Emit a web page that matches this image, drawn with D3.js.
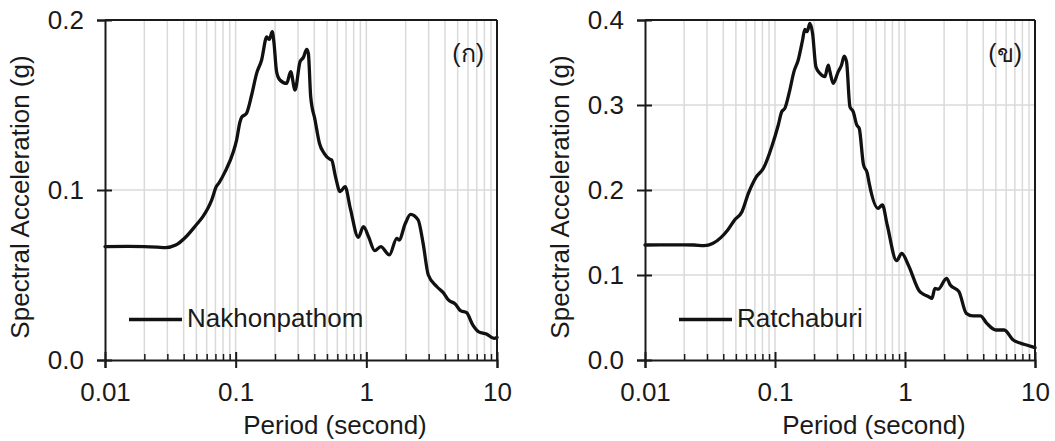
<!DOCTYPE html>
<html>
<head>
<meta charset="utf-8">
<script src="https://cdn.jsdelivr.net/npm/d3@7"></script>
<style>
  html, body { margin: 0; padding: 0; background: #fff; }
  svg { display: block; font-family: "Liberation Sans", Arial, sans-serif; }
</style>
</head>
<body>
<svg id="chart" width="1055" height="441"></svg>
<script>
// Period axis (log scale, seconds)
const xTickValues = [0.01, 0.1, 1, 10];
const xTickLabels = ["0.01", "0.1", "1", "10"];

// Nakhonpathom response spectrum
const periodNakhon = [0.01, 0.015, 0.02, 0.025, 0.029, 0.0348, 0.0417, 0.0498, 0.0561, 0.0613, 0.0655,
  0.0711, 0.075, 0.083, 0.096, 0.1016, 0.1079, 0.111, 0.121, 0.1325, 0.1447, 0.158, 0.1729, 0.181,
  0.1905, 0.196, 0.2056, 0.218, 0.2456, 0.2636, 0.2847, 0.311, 0.33, 0.3495, 0.36, 0.375, 0.405,
  0.4375, 0.4755, 0.528, 0.543, 0.58, 0.63, 0.688, 0.754, 0.868, 0.951, 1.04, 1.16, 1.29, 1.5, 1.71,
  1.78, 1.99, 2.18, 2.49, 2.72, 2.98, 3.47, 3.88, 4.25, 4.8, 5.25, 5.85, 6.52, 7.2, 8.3, 9.5, 10];
const saNakhon = [0.0667, 0.0668, 0.0667, 0.0664, 0.0661, 0.0676, 0.0725, 0.0794, 0.0843, 0.0892, 0.094,
  0.102, 0.1045, 0.1108, 0.1225, 0.1294, 0.14, 0.1427, 0.1451, 0.1559, 0.1686, 0.1765, 0.19, 0.1886,
  0.1931, 0.1873, 0.1696, 0.1647, 0.1627, 0.1696, 0.1588, 0.1755, 0.178, 0.1827, 0.1804, 0.155, 0.1412,
  0.1275, 0.1216, 0.118, 0.1176, 0.108, 0.099, 0.102, 0.0892, 0.0722, 0.0784, 0.0725, 0.0643, 0.0667,
  0.0618, 0.0716, 0.0706, 0.0804, 0.0857, 0.0824, 0.0686, 0.05, 0.0431, 0.0396, 0.0353, 0.0329, 0.029,
  0.0278, 0.0206, 0.0167, 0.0153, 0.0127, 0.0133];

// Ratchaburi response spectrum
const periodRatchaburi = [0.01, 0.015, 0.02, 0.0238, 0.0285, 0.0331, 0.0385, 0.0433, 0.0489, 0.0557,
  0.0624, 0.072, 0.0814, 0.0944, 0.106, 0.1126, 0.119, 0.13, 0.1397, 0.1509, 0.163, 0.1696, 0.1766,
  0.1855, 0.1945, 0.2063, 0.2213, 0.242, 0.2568, 0.263, 0.2805, 0.306, 0.325, 0.3405, 0.355, 0.377,
  0.4, 0.4255, 0.4445, 0.479, 0.513, 0.53, 0.62, 0.67, 0.73, 0.862, 0.944, 1.06, 1.3, 1.38, 1.52, 1.61,
  1.7, 1.8, 2.09, 2.23, 2.6, 2.96, 3.34, 3.8, 4.26, 5.0, 5.8, 6.8, 7.8, 8.6, 10];
const saRatchaburi = [0.1353, 0.1355, 0.1355, 0.1353, 0.1345, 0.137, 0.1443, 0.153, 0.1647, 0.1745,
  0.196, 0.2157, 0.2255, 0.251, 0.2765, 0.292, 0.296, 0.3176, 0.339, 0.353, 0.3765, 0.389, 0.3863,
  0.396, 0.3843, 0.345, 0.3373, 0.3333, 0.347, 0.341, 0.3255, 0.339, 0.347, 0.3576, 0.351, 0.298,
  0.292, 0.2765, 0.2725, 0.23, 0.2196, 0.208, 0.1784, 0.1824, 0.1588, 0.1168, 0.1255, 0.1118, 0.0804,
  0.0776, 0.0745, 0.0725, 0.0843, 0.0833, 0.0961, 0.0882, 0.0804, 0.0549, 0.0518, 0.052, 0.0431,
  0.0353, 0.0353, 0.0235, 0.0196, 0.0176, 0.0145];

// Spectral acceleration axes
const yTicksNakhon = [0, 0.1, 0.2];
const yTickLabelsNakhon = ["0.0", "0.1", "0.2"];
const yTicksRatchaburi = [0, 0.1, 0.2, 0.3, 0.4];
const yTickLabelsRatchaburi = ["0.0", "0.1", "0.2", "0.3", "0.4"];

const panels = [
  { left: 105, right: 497, yMax: 0.2, yTicks: yTicksNakhon, yLabels: yTickLabelsNakhon,
    periods: periodNakhon, values: saNakhon, name: "Nakhonpathom", tag: "(ก)",
    legendX: 129, titleX: 335, yTitleX: 29 },
  { left: 645, right: 1035, yMax: 0.4, yTicks: yTicksRatchaburi, yLabels: yTickLabelsRatchaburi,
    periods: periodRatchaburi, values: saRatchaburi, name: "Ratchaburi", tag: "(ข)",
    legendX: 679, titleX: 874, yTitleX: 569 }
];

const plotTop = 20, plotBottom = 360;
const ink = "#1a1a1a";
const gridColor = "#dadada";
const fontSize = 26;

// minor log positions 2..9 within each decade
const minorTicks = [];
[0.01, 0.1, 1].forEach(d => { for (let k = 2; k <= 9; k++) minorTicks.push(+(d * k).toPrecision(3)); });

const svg = d3.select("#chart");

panels.forEach(p => {
  const x = d3.scaleLog().domain([0.01, 10]).range([p.left, p.right]);
  const y = d3.scaleLinear().domain([0, p.yMax]).range([plotBottom, plotTop]);
  const g = svg.append("g");

  // grid
  const vGrid = minorTicks.concat([0.1, 1]);
  g.append("g").selectAll("line").data(vGrid).join("line")
    .attr("x1", d => x(d)).attr("x2", d => x(d))
    .attr("y1", plotTop).attr("y2", plotBottom)
    .attr("stroke", gridColor).attr("stroke-width", 1.5);
  g.append("g").selectAll("line").data(p.yTicks.filter(v => v > 0 && v < p.yMax)).join("line")
    .attr("x1", p.left).attr("x2", p.right)
    .attr("y1", d => y(d)).attr("y2", d => y(d))
    .attr("stroke", gridColor).attr("stroke-width", 1.5);

  // spectrum line
  const pts = p.periods.map((t, i) => [t, p.values[i]]);
  const line = d3.line().x(d => x(d[0])).y(d => y(d[1])).curve(d3.curveMonotoneX);
  g.append("path").datum(pts).attr("d", line)
    .attr("fill", "none").attr("stroke", "#111").attr("stroke-width", 3.3)
    .attr("stroke-linejoin", "round").attr("stroke-linecap", "round");

  // frame: top and right edges
  g.append("line").attr("x1", p.left).attr("x2", p.right).attr("y1", plotTop).attr("y2", plotTop)
    .attr("stroke", ink).attr("stroke-width", 2);
  g.append("line").attr("x1", p.right).attr("x2", p.right).attr("y1", plotTop).attr("y2", plotBottom)
    .attr("stroke", ink).attr("stroke-width", 2);

  // x axis: minor ticks inside
  const minorAxis = g.append("g").attr("transform", `translate(0,${plotBottom})`)
    .call(d3.axisBottom(x).tickValues(minorTicks).tickSize(-6).tickFormat(""));
  minorAxis.select(".domain").remove();
  minorAxis.selectAll("line").attr("stroke", ink).attr("stroke-width", 1.5);

  // x axis: major ticks crossing the axis, with labels
  const xAxis = g.append("g").attr("transform", `translate(0,${plotBottom})`)
    .call(d3.axisBottom(x).tickValues(xTickValues)
      .tickFormat((d, i) => xTickLabels[i]).tickSizeOuter(0).tickSize(8).tickPadding(14.5));
  xAxis.select(".domain").attr("stroke", ink).attr("stroke-width", 2);
  xAxis.selectAll(".tick line").attr("y1", -8).attr("stroke", ink).attr("stroke-width", 2);
  xAxis.selectAll("text").attr("font-size", fontSize).attr("fill", ink)
    .attr("font-family", "'Liberation Sans', Arial, sans-serif");

  // y axis
  const yAxis = g.append("g").attr("transform", `translate(${p.left},0)`)
    .call(d3.axisLeft(y).tickValues(p.yTicks)
      .tickFormat((d, i) => p.yLabels[i]).tickSizeOuter(0).tickSize(8).tickPadding(13));
  yAxis.select(".domain").attr("stroke", ink).attr("stroke-width", 2);
  yAxis.selectAll(".tick line").attr("x1", 7).attr("stroke", ink).attr("stroke-width", 2);
  yAxis.selectAll("text").attr("font-size", fontSize).attr("fill", ink)
    .attr("font-family", "'Liberation Sans', Arial, sans-serif");

  // axis titles
  g.append("text").attr("x", p.titleX).attr("y", 434)
    .attr("text-anchor", "middle").attr("font-size", fontSize).attr("fill", ink)
    .text("Period (second)");
  g.append("text").attr("transform", `translate(${p.yTitleX},197) rotate(-90)`)
    .attr("text-anchor", "middle").attr("font-size", fontSize).attr("fill", ink)
    .text("Spectral Acceleration (g)");

  // panel tag
  g.append("text").attr("x", p.right - 13).attr("y", 62)
    .attr("text-anchor", "end").attr("font-size", 25).attr("fill", ink)
    .text(p.tag);

  // legend
  g.append("line").attr("x1", p.legendX).attr("x2", p.legendX + 53)
    .attr("y1", 319.5).attr("y2", 319.5)
    .attr("stroke", "#111").attr("stroke-width", 3.3);
  g.append("text").attr("x", p.legendX + 58).attr("y", 327)
    .attr("font-size", fontSize).attr("fill", ink).text(p.name);
});
</script>
</body>
</html>
